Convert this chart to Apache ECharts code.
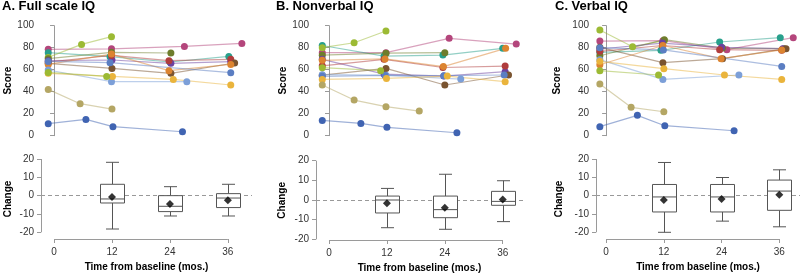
<!DOCTYPE html>
<html>
<head>
<meta charset="utf-8">
<script src="https://cdn.jsdelivr.net/npm/echarts@6/dist/echarts.min.js"></script>
<style>
  html, body { margin: 0; padding: 0; background: #fff; }
  #chart { width: 800px; height: 276px; }
</style>
</head>
<body>
<div id="chart"></div>
<script>
// visit months on the change axis, and change ticks
const months = [0, 12, 24, 36];
const changeTicks = [-20, -10, 0, 10, 20];

// subjects, same order in every panel
const subjects = ["magenta", "teal", "lime", "olive", "purple", "red", "brown",
  "orange", "lightblue", "steelblue", "yellow", "lime2", "tan", "darkblue"];

// [month, score] per subject (full scale IQ)
const fsiqLines = [
  [[-1.2, 78.5], [11.9, 79], [27, 81.2], [38.9, 83.9]],
  [[-1.2, 75.5], [11.6, 71.8], [24, 67], [36.2, 72.1]],
  [[-1.2, 71.2], [5.7, 83], [11.9, 90]],
  [[-1.2, 70], [11.9, 75.8], [24.2, 75.2]],
  [[-1.2, 68.2], [12, 68.8], [24.2, 65.8], [36.6, 67.3]],
  [[-1.2, 67], [11.9, 73], [23.8, 68.2], [36.6, 69.4]],
  [[-1.2, 65.8], [12, 61.2], [24.2, 56.7], [37.4, 66.1]],
  [[-1.2, 64.8], [11.9, 74.2], [23.8, 59.1], [36.6, 64.8]],
  [[-1.2, 59.7], [11.9, 49.1], [27.5, 49.1]],
  [[-1.2, 67.5], [11.6, 66.4], [36.6, 57.3]],
  [[-1.2, 56.7], [12.1, 53.9], [24.7, 51.2], [36.6, 46.1]],
  [[-1.2, 57.5], [10.9, 53.9]],
  [[-1.2, 42.1], [5.4, 29.1], [12, 24.2]],
  [[-1.2, 10.9], [6.6, 14.8], [12.2, 8.2], [26.6, 3.6]]
];

// nonverbal IQ
const nviqLines = [
  [[-1.4, 75.5], [11.8, 75.5], [24.9, 88.5], [38.8, 83.3]],
  [[-1.4, 82], [11.4, 72.4], [23.6, 73.3], [36, 79.4]],
  [[-1.4, 80], [5.2, 84.5], [11.8, 95.2]],
  [[-1.4, 73.2], [11.8, 75], [24, 75.5]],
  [[-1.4, 69.4], [11.4, 56], [23.8, 54.2], [36.5, 58.2]],
  [[-1.4, 63.5], [11.4, 69.4], [23.6, 62], [36.5, 63.3]],
  [[-1.4, 55], [11.8, 61.2], [24, 46.1], [37.2, 55.2]],
  [[-1.4, 68.5], [11.6, 69.8], [23.7, 62.8], [36.6, 79.4]],
  [[-1.4, 55.5], [11.8, 55], [27.3, 51.5]],
  [[-1.4, 54], [11.6, 54.8], [23.8, 54.6], [36.3, 55.2]],
  [[-1.4, 51.2], [11.9, 52.1], [24.5, 54.2], [36.5, 49.1]],
  [[-1.4, 61.8], [10.7, 59.1]],
  [[-1.4, 46.1], [5.2, 32.4], [11.8, 26.4], [18.7, 22.4]],
  [[-1.4, 13.9], [6.6, 11.2], [12, 7.6], [26.5, 2.7]]
];

// verbal IQ
const viqLines = [
  [[-1.3, 86], [11.8, 86.4], [25.1, 78.2], [38.9, 89.1]],
  [[-1.3, 75.8], [11.4, 77.6], [23.6, 85.2], [36.2, 89.1]],
  [[-1.3, 96.1], [5.5, 80.9], [12.1, 86.5]],
  [[-1.3, 72.7], [12.1, 87.3], [24.2, 79.7], [37, 79.1]],
  [[-1.3, 78.8], [11.7, 84.2], [24, 80.3], [36.7, 79.1]],
  [[-1.3, 76.7], [11.7, 82], [23.6, 78.2], [36.5, 77.6]],
  [[-1.3, 80.3], [11.8, 66.4], [24.2, 70], [37.4, 79.1]],
  [[-1.3, 64.5], [11.8, 82], [23.9, 70], [36.5, 78]],
  [[-1.3, 69.1], [11.8, 51.2], [27.6, 55.2]],
  [[-1.3, 80], [11.9, 78], [36.5, 63]],
  [[-1.3, 67.6], [12, 60.9], [24.6, 55.2], [36.5, 51.2]],
  [[-1.3, 59.1], [10.9, 55.2]],
  [[-1.3, 47], [5.2, 25.8], [12, 21.8]],
  [[-1.3, 8.2], [6.5, 18.5], [12.2, 9.1], [26.6, 4.5]]
];

// change boxes: [month, low whisker, q1, median, q3, high whisker]
const fsiqBox = [[12, -18.2, -4, -1.8, 6.2, 18.2], [24, -11.1, -8.7, -5.8, 0, 4.9], [36, -11.1, -6.5, -1.3, 1.1, 6.2]];
const nviqBox = [[12, -14.1, -6.6, 0, 2, 5.9], [24, -14.9, -9, -4.9, 2, 13.1], [36, -11, -2.7, -0.7, 4.4, 9.8]];
const viqBox = [[12, -20, -8.9, -0.7, 6.1, 18.1], [24, -13.9, -8.9, -0.7, 6.1, 9.9], [36, -17, -8, 2.5, 8.5, 14.1]];

// mean change at 12, 24, 36
const fsiqMean = [-0.7, -4.5, -2.5];
const nviqMean = [-1.7, -3.9, 0.3];
const viqMean = [-2.4, -1.8, 0.5];

const subjectColors = {
  magenta: "#b4467c", teal: "#28a08c", lime: "#9cba34", olive: "#6e7d2c",
  purple: "#6b42a0", red: "#b03c3c", brown: "#7a5430", orange: "#dc8430",
  lightblue: "#7c9fd8", steelblue: "#5b7ec2", yellow: "#eab43c",
  lime2: "#9cba34", tan: "#b4a664", darkblue: "#4064b2"
};

const font = "Liberation Sans, Arial, sans-serif";
const axisGray = "#9a9a9a";
const labelGray = "#333";

const panels = [
  { title: "A. Full scale IQ", titleLeft: 2, left: 41, width: 211, xMin: -2.7, xMax: 41,
    lines: fsiqLines, box: fsiqBox, mean: fsiqMean, lowTop: 159, lowHeight: 80, lowMin: -23.65,
    scoreGap: 26, changeGap: 28 },
  { title: "B. Nonverbal IQ", titleLeft: 276, left: 316, width: 207, xMin: -2.7, xMax: 40.2,
    lines: nviqLines, box: nviqBox, mean: nviqMean, lowTop: 160.7, lowHeight: 79.3, lowMin: -20.35,
    scoreGap: 23, changeGap: 29 },
  { title: "C. Verbal IQ", titleLeft: 555, left: 596, width: 204, xMin: -2.1, xMax: 40.3,
    lines: viqLines, box: viqBox, mean: viqMean, lowTop: 159, lowHeight: 80, lowMin: -23.65,
    scoreGap: 34, changeGap: 32 }
];

function renderBox(params, api) {
  const x = api.value(0);
  const lo = api.coord([x, api.value(1)]);
  const q1 = api.coord([x, api.value(2)]);
  const med = api.coord([x, api.value(3)]);
  const q3 = api.coord([x, api.value(4)]);
  const hi = api.coord([x, api.value(5)]);
  const half = 12, cap = 6.5;
  const cx = Math.round(lo[0]) + 0.5;
  const style = { stroke: "#555", lineWidth: 1, fill: null };
  const seg = (x1, y1, x2, y2) => ({ type: "line", shape: { x1, y1, x2, y2 }, style });
  return {
    type: "group",
    children: [
      seg(cx, hi[1], cx, q3[1]),
      seg(cx, q1[1], cx, lo[1]),
      seg(cx - cap, hi[1], cx + cap, hi[1]),
      seg(cx - cap, lo[1], cx + cap, lo[1]),
      { type: "rect", shape: { x: cx - half, y: q3[1], width: half * 2, height: q1[1] - q3[1] },
        style: { stroke: "#555", fill: "#fff", lineWidth: 1 } },
      seg(cx - half, med[1], cx + half, med[1])
    ]
  };
}

// R-style axis line that only spans the tick range: [x1, y1, x2, y2]
function renderAxisSegment(params, api) {
  const a = api.coord([api.value(0), api.value(1)]);
  const b = api.coord([api.value(2), api.value(3)]);
  const snap = (v) => Math.round(v) + 0.5;
  const vertical = a[0] === b[0];
  return {
    type: "line",
    shape: vertical
      ? { x1: snap(a[0]), y1: a[1], x2: snap(b[0]), y2: b[1] }
      : { x1: a[0], y1: snap(a[1]), x2: b[0], y2: snap(b[1]) },
    style: { stroke: axisGray, lineWidth: 1 }
  };
}

const grid = [], xAxis = [], yAxis = [], series = [];
const nameStyle = { fontFamily: font, fontSize: 10, fontWeight: "bold", color: "#000" };
const tickLabel = { fontFamily: font, fontSize: 10, color: labelGray };

panels.forEach((p, i) => {
  const top = 2 * i, low = 2 * i + 1;
  grid.push({ left: p.left, top: 25.7, width: p.width, height: 110 });
  grid.push({ left: p.left, top: p.lowTop, width: p.width, height: p.lowHeight });

  xAxis.push({ gridIndex: top, type: "value", min: p.xMin, max: p.xMax, show: false });
  xAxis.push({
    gridIndex: low, type: "value", min: p.xMin, max: p.xMax,
    name: "Time from baseline (mos.)", nameLocation: "middle", nameGap: 23, nameTextStyle: nameStyle,
    axisLine: { show: false, onZero: false },
    axisTick: { show: true, length: 4, customValues: months, lineStyle: { color: axisGray } },
    axisLabel: { ...tickLabel, customValues: months, margin: 8 },
    splitLine: { show: false }
  });

  yAxis.push({
    gridIndex: top, type: "value", min: 0, max: 100, interval: 20,
    name: "Score", nameLocation: "middle", nameGap: p.scoreGap, nameTextStyle: nameStyle,
    axisLine: { show: true, lineStyle: { color: axisGray } },
    axisTick: { show: true, length: 4, lineStyle: { color: axisGray } },
    axisLabel: { ...tickLabel, margin: 7 },
    splitLine: { show: false }
  });
  yAxis.push({
    gridIndex: low, type: "value", min: p.lowMin, max: 20,
    name: "Change", nameLocation: "middle", nameGap: p.changeGap, nameTextStyle: nameStyle,
    axisLine: { show: false, onZero: false },
    axisTick: { show: true, length: 4, customValues: changeTicks, lineStyle: { color: axisGray } },
    axisLabel: { ...tickLabel, customValues: changeTicks, margin: 7 },
    splitLine: { show: false }
  });

  p.lines.forEach((pts, k) => {
    const c = subjectColors[subjects[k]];
    series.push({
      type: "line", xAxisIndex: top, yAxisIndex: top, data: pts,
      symbol: "circle", symbolSize: 7, showSymbol: true,
      lineStyle: { color: c, width: 1.2, opacity: 0.5 },
      itemStyle: { color: c, opacity: 1 },
      silent: true, z: 2
    });
  });

  series.push({
    type: "custom", xAxisIndex: low, yAxisIndex: low, clip: false, silent: true, z: 1,
    encode: { x: [0, 2], y: [1, 3] },
    data: [
      [p.xMin, changeTicks[0], p.xMin, changeTicks[changeTicks.length - 1]],
      [months[0], p.lowMin, months[months.length - 1], p.lowMin]
    ],
    renderItem: renderAxisSegment
  });

  series.push({
    type: "custom", xAxisIndex: low, yAxisIndex: low, data: p.box,
    encode: { x: 0, y: [1, 2, 3, 4, 5] }, renderItem: renderBox, z: 3, silent: true
  });

  series.push({
    type: "scatter", xAxisIndex: low, yAxisIndex: low,
    data: p.mean.map((v, k) => [months[k + 1], v]),
    symbol: "diamond", symbolSize: 8, itemStyle: { color: "#000" }, z: 4, silent: true,
    markLine: {
      silent: true, symbol: "none", z: 1, animation: false,
      label: { show: false },
      lineStyle: { color: "#999", width: 1, type: [4, 3] },
      data: [{ yAxis: 0 }]
    }
  });
});

const chart = echarts.init(document.getElementById("chart"));
chart.setOption({
  animation: false,
  backgroundColor: "#fff",
  title: panels.map((p) => ({
    text: p.title, left: p.titleLeft, top: 0, padding: 0,
    textStyle: { fontFamily: font, fontSize: 13, fontWeight: "bold", color: "#000" }
  })),
  grid, xAxis, yAxis, series
});
</script>
</body>
</html>
